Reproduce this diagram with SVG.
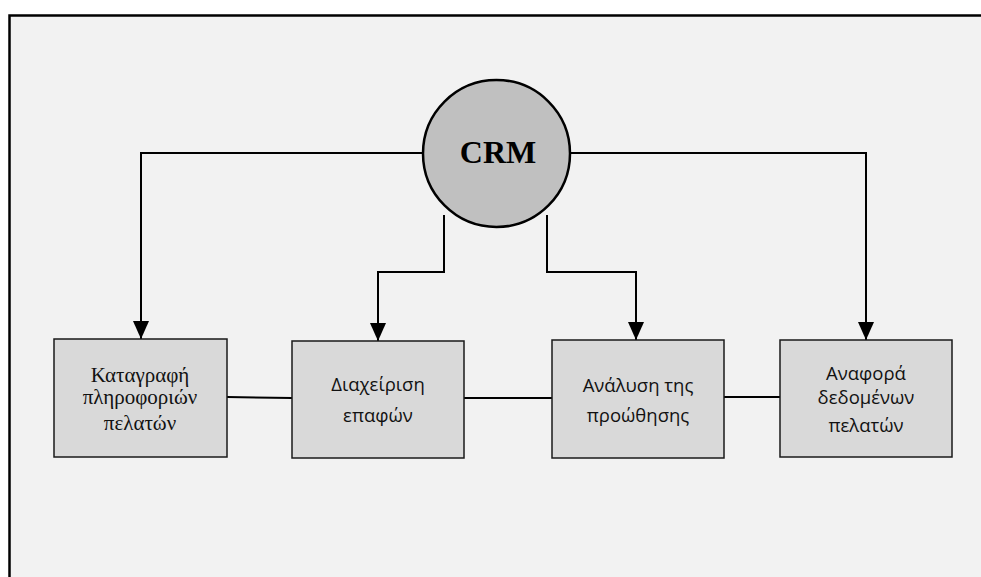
<svg xmlns="http://www.w3.org/2000/svg" width="981" height="577" viewBox="0 0 981 577">
  <defs>
    <marker id="arrow" viewBox="0 0 18 16" refX="18" refY="8" markerWidth="18" markerHeight="16" markerUnits="userSpaceOnUse" orient="auto">
      <path d="M0,0 L18,8 L0,16 Z" fill="#000"/>
    </marker>
    <style>
      .frame { fill: #f2f2f2; stroke: #000; stroke-width: 2.5; }
      .box { fill: #d9d9d9; stroke: #1a1a1a; stroke-width: 1.5; }
      .hub { fill: #c0c0c0; stroke: #000; stroke-width: 2.5; }
      .wire { fill: none; stroke: #000; stroke-width: 2; }
      .serif { font-family: "Liberation Serif", "Times New Roman", serif; font-size: 21px; fill: #111; text-anchor: middle; }
      .sans { font-family: "Open Sans", "Noto Sans", "DejaVu Sans", sans-serif; font-size: 18.5px; fill: #111; text-anchor: middle; }
      .title { font-family: "Liberation Serif", "Times New Roman", serif; font-size: 32px; font-weight: bold; fill: #000; text-anchor: middle; }
    </style>
  </defs>

  <rect x="0" y="0" width="981" height="577" fill="#fff"/>
  <rect class="frame" x="9.5" y="15.5" width="1100" height="700"/>

  <g id="connectors">
    <!-- hub to outer boxes -->
    <path class="wire" d="M423,153 H141 V339" marker-end="url(#arrow)"/>
    <path class="wire" d="M570,153 H866 V340" marker-end="url(#arrow)"/>
    <!-- hub to inner boxes -->
    <path class="wire" d="M444,215 V272 H378 V341" marker-end="url(#arrow)"/>
    <path class="wire" d="M547,215 V272 H636 V340" marker-end="url(#arrow)"/>
    <!-- links between boxes -->
    <path class="wire" d="M227,397 L292,398"/>
    <path class="wire" d="M464,398 L552,398"/>
    <path class="wire" d="M724,397 L780,397"/>
  </g>

  <g id="crm">
    <circle class="hub" cx="496.5" cy="153.5" r="73.5"/>
    <text class="title" x="498" y="163">CRM</text>
  </g>

  <g id="node-kataggrafi">
    <rect class="box" x="54" y="339" width="173" height="118"/>
    <text class="serif" x="140" y="382">Καταγραφή</text>
    <text class="serif" x="140" y="404">πληροφοριών</text>
    <text class="serif" x="140" y="430">πελατών</text>
  </g>

  <g id="node-diaxeirisi">
    <rect class="box" x="292" y="341" width="172" height="117"/>
    <text class="sans" x="378" y="391">Διαχείριση</text>
    <text class="sans" x="378" y="422">επαφών</text>
  </g>

  <g id="node-analysi">
    <rect class="box" x="552" y="340" width="172" height="118"/>
    <text class="sans" x="638" y="392">Ανάλυση της</text>
    <text class="sans" x="638" y="422">προώθησης</text>
  </g>

  <g id="node-anafora">
    <rect class="box" x="780" y="340" width="172" height="117"/>
    <text class="sans" x="866" y="380">Αναφορά</text>
    <text class="sans" x="866" y="404">δεδομένων</text>
    <text class="sans" x="866" y="432">πελατών</text>
  </g>
</svg>
